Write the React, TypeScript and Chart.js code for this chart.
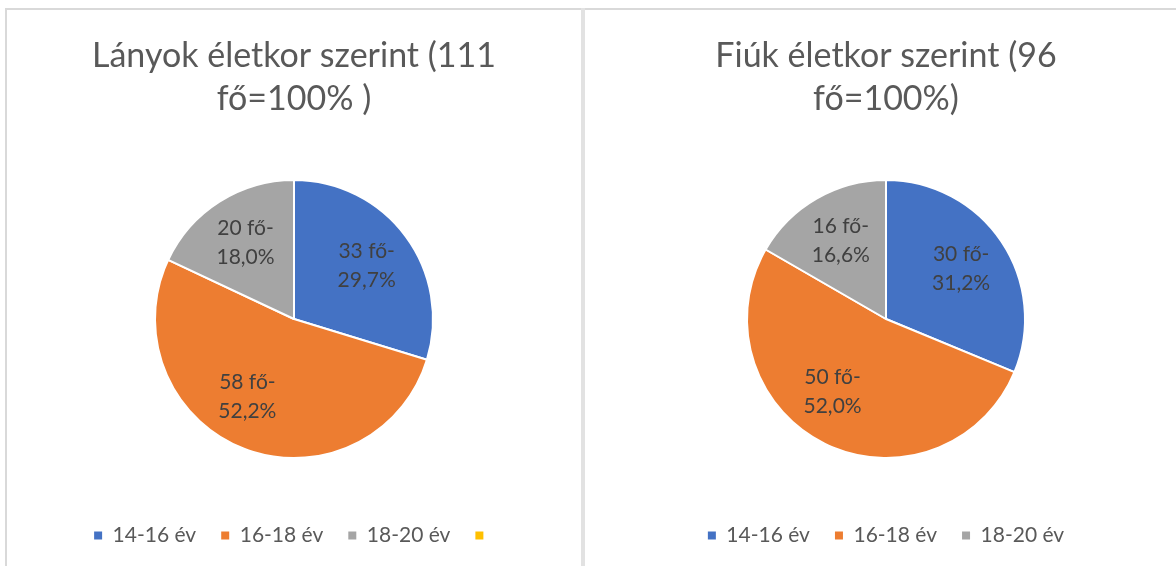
import React, { useEffect, useRef } from "react";
import { Chart, registerables } from "chart.js";

Chart.register(...registerables);

// ---- data ----
const ageGroups = ["14-16 év", "16-18 év", "18-20 év"];
const girlsCounts = [33, 58, 20];
const girlsPercentLabels = ["29,7%", "52,2%", "18,0%"];
const boysCounts = [30, 50, 16];
const boysPercentLabels = ["31,2%", "52,0%", "16,6%"];
const girlsTitle = ["Lányok életkor szerint (111", "fő=100% )"];
const boysTitle = ["Fiúk életkor szerint (96", "fő=100%)"];
const countSuffix = " fő-";

// ---- styles ----
const sliceColors = ["#4472C4", "#ED7D31", "#A5A5A5"];
const extraLegendColor = "#FFC000";
const labelAngleNudgeDeg = [0, 10, 0];
const FONT = "Lato, 'Open Sans', sans-serif";
const TITLE_COLOR = "#595959";
const LABEL_COLOR = "#404040";
const PANEL_HEIGHT = 556;

const sliceLabelPlugin = {
  id: "sliceLabels",
  afterDatasetsDraw(chart: any, _args: any, opts: any) {
    const { ctx } = chart;
    const meta = chart.getDatasetMeta(0);
    const lines: string[][] = opts.lines || [];
    ctx.save();
    ctx.fillStyle = opts.color;
    ctx.font = `${opts.size}px ${FONT}`;
    ctx.textAlign = "center";
    ctx.textBaseline = "middle";
    meta.data.forEach((arc: any, i: number) => {
      const p = arc.getProps(["x", "y", "startAngle", "endAngle", "outerRadius"], true);
      const mid = (p.startAngle + p.endAngle) / 2 + ((opts.nudge[i] || 0) * Math.PI) / 180;
      const r = p.outerRadius * opts.fraction;
      const cx = p.x + Math.cos(mid) * r;
      const cy = p.y + Math.sin(mid) * r;
      const ls = lines[i] || [];
      const lh = opts.lineHeight;
      ls.forEach((t, k) => {
        ctx.fillText(t, cx, cy + (k - (ls.length - 1) / 2) * lh);
      });
    });
    ctx.restore();
  },
};

function makeChart(
  canvas: HTMLCanvasElement,
  title: string[],
  counts: number[],
  percents: string[],
  extraLegend: boolean
) {
  const labelLines = counts.map((c, i) => [`${c}${countSuffix}`, percents[i]]);
  return new Chart(canvas, {
    type: "pie",
    data: {
      labels: ageGroups,
      datasets: [
        {
          data: counts,
          backgroundColor: sliceColors,
          borderColor: "#ffffff",
          borderWidth: 2,
        },
      ],
    },
    plugins: [sliceLabelPlugin],
    options: {
      responsive: false,
      animation: false,
      radius: 139,
      layout: { padding: { bottom: 10 } },
      plugins: {
        tooltip: { enabled: false },
        title: {
          display: true,
          text: title,
          color: TITLE_COLOR,
          font: { family: FONT, size: 34, weight: "normal", lineHeight: 43 / 34 },
          padding: { top: 25, bottom: 17 },
        },
        legend: {
          position: "bottom",
          labels: {
            boxWidth: 8,
            boxHeight: 8,
            padding: 25,
            color: TITLE_COLOR,
            font: { family: FONT, size: 21 },
            generateLabels: (chart: any) => {
              const base = (Chart as any).overrides.pie.plugins.legend.labels
                .generateLabels(chart)
                .map((it: any) => ({ ...it, lineWidth: 0 }));
              if (extraLegend) {
                base.push({
                  text: "",
                  fillStyle: extraLegendColor,
                  strokeStyle: extraLegendColor,
                  lineWidth: 0,
                  hidden: false,
                  index: base.length,
                  fontColor: TITLE_COLOR,
                });
              }
              return base;
            },
          },
        },
        sliceLabels: {
          lines: labelLines,
          color: LABEL_COLOR,
          size: 21,
          lineHeight: 29,
          fraction: 0.65,
          nudge: labelAngleNudgeDeg,
        },
      } as any,
    },
  });
}

export default function App() {
  const leftRef = useRef<HTMLCanvasElement>(null);
  const rightRef = useRef<HTMLCanvasElement>(null);

  useEffect(() => {
    const c1 = makeChart(leftRef.current!, girlsTitle, girlsCounts, girlsPercentLabels, true);
    const c2 = makeChart(rightRef.current!, boysTitle, boysCounts, boysPercentLabels, false);
    return () => {
      c1.destroy();
      c2.destroy();
    };
  }, []);

  const line = "#d9d9d9";
  return (
    <div
      style={{
        position: "absolute",
        left: 0,
        top: 0,
        width: 1176,
        height: 566,
        overflow: "hidden",
        background: "#ffffff",
      }}
    >
      <div style={{ position: "absolute", left: 5, top: 8, width: 1171, height: 2, background: line }} />
      <div style={{ position: "absolute", left: 5, top: 8, width: 2, height: 558, background: line }} />
      <div style={{ position: "absolute", left: 581, top: 8, width: 4, height: 558, background: "#e2e2e2" }} />
      <canvas
        ref={leftRef}
        width={574}
        height={PANEL_HEIGHT}
        style={{ position: "absolute", left: 7, top: 10 }}
      />
      <canvas
        ref={rightRef}
        width={602}
        height={PANEL_HEIGHT}
        style={{ position: "absolute", left: 585, top: 10 }}
      />
    </div>
  );
}
